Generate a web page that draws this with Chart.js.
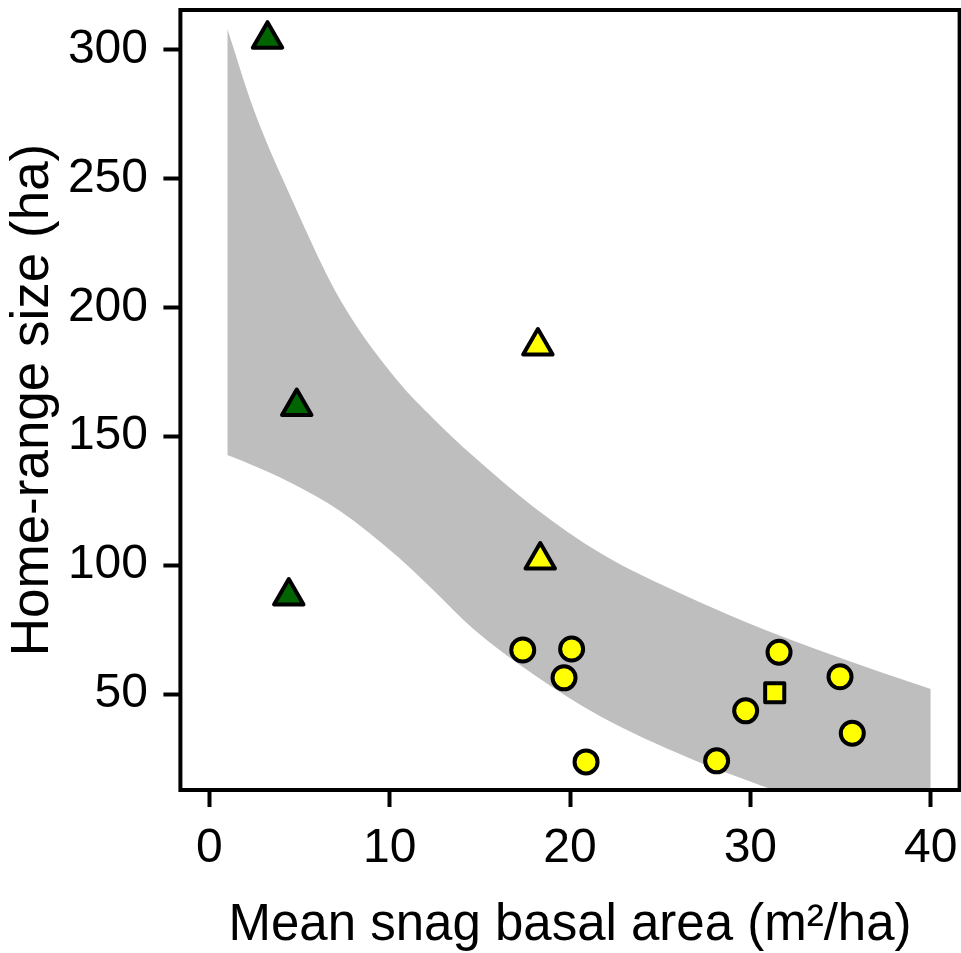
<!DOCTYPE html>
<html>
<head>
<meta charset="utf-8">
<script src="https://cdn.jsdelivr.net/npm/chart.js@4"></script>
<style>
  html, body { margin: 0; padding: 0; background: #fff; }
</style>
</head>
<body>
<canvas id="myChart" width="961" height="953"></canvas>
<script>
// observed home ranges, one pair of arrays per marker group
const greenTriX = [3.23, 4.85, 4.41];
const greenTriY = [304, 161.5, 88];
const yellowTriX = [18.22, 18.35];
const yellowTriY = [185, 102];
const circleX = [17.38, 20.09, 19.67, 20.89, 28.13, 29.74, 31.59, 34.97, 35.65];
const circleY = [67.1, 67.5, 56.3, 23.7, 24.1, 43.5, 66.2, 56.7, 34.8];
const squareX = [31.35];
const squareY = [50.5];

// grey confidence band
const bandX     = [1,     2.5,   4.6,   7.25, 10.5, 12.4, 14.6,  18,    21.7,  26.5, 29.8, 33.5, 37.2, 40];
const bandUpper = [308,   276,   241.5, 203,  171,  157,  142.5, 122.5, 104.6, 87.8, 77.8, 67.8, 58.6, 52];
const bandLower = [142.7, 138.5, 131.7, 121,  103,  90.5, 75.5,  57.5,  41.3,  25.5, 16.6, 7.5,  0,    -6];

const xTicks = [0, 10, 20, 30, 40];
const yTicks = [50, 100, 150, 200, 250, 300];

const FONT = "'Liberation Sans', Arial, sans-serif";

const pts = (xs, ys) => xs.map((x, i) => ({x: x, y: ys[i]}));

// frame round the plot, drawn on top of the band
const boxPlugin = {
    id: 'box',
    beforeDatasetsDraw(chart) {
        chart.ctx.save();
        chart.ctx.lineJoin = 'round';
    },
    afterDatasetsDraw(chart) {
        const {ctx, chartArea: a} = chart;
        ctx.restore();
        ctx.save();
        ctx.lineWidth = 4;
        ctx.strokeStyle = '#000';
        ctx.strokeRect(a.left, a.top, a.right - a.left, a.bottom - a.top);
        ctx.restore();
    }
};

const marker = (style, color, radius) => ({
    pointStyle: style,
    pointRadius: radius,
    pointBackgroundColor: color,
    pointBorderColor: '#000',
    pointBorderWidth: 4
});

var ctx = document.getElementById("myChart").getContext("2d");
new Chart(ctx, {
    type: 'scatter',
    data: {
        datasets: [
            Object.assign({data: pts(greenTriX, greenTriY)}, marker('triangle', '#006400', 17)),
            Object.assign({data: pts(yellowTriX, yellowTriY)}, marker('triangle', '#ffff00', 17)),
            Object.assign({data: pts(circleX, circleY)}, marker('circle', '#ffff00', 11.5)),
            Object.assign({data: pts(squareX, squareY)}, marker('rect', '#ffff00', 13.5)),
            {
                type: 'line',
                data: pts(bandX, bandUpper),
                borderWidth: 0,
                pointRadius: 0,
                cubicInterpolationMode: 'monotone',
                backgroundColor: '#bebebe',
                fill: '+1'
            },
            {
                type: 'line',
                data: pts(bandX, bandLower),
                borderWidth: 0,
                pointRadius: 0,
                cubicInterpolationMode: 'monotone',
                fill: false
            }
        ]
    },
    options: {
        responsive: false,
        animation: false,
        layout: { autoPadding: false, padding: { top: 10, right: 1.4, left: 0, bottom: 0 } },
        plugins: {
            legend: { display: false },
            tooltip: { enabled: false }
        },
        scales: {
            x: {
                type: 'linear',
                min: -1.6,
                max: 41.6,
                afterBuildTicks: axis => { axis.ticks = xTicks.map(v => ({value: v})); },
                afterFit: axis => { axis.height = 163; axis.paddingLeft = 0; axis.paddingRight = 0; },
                border: { display: false },
                grid: { drawOnChartArea: false, drawTicks: true, tickLength: 17, tickWidth: 4, tickColor: '#000' },
                ticks: {
                    color: '#000',
                    padding: 13.3,
                    autoSkip: false,
                    maxRotation: 0,
                    font: { family: FONT, size: 48, lineHeight: 1.2 }
                },
                title: {
                    display: true,
                    text: 'Mean snag basal area (m²/ha)',
                    color: '#000',
                    font: { family: FONT, size: 51, lineHeight: 1 },
                    padding: { top: 0, bottom: 2 }
                }
            },
            y: {
                type: 'linear',
                min: 12.8,
                max: 315.3,
                afterBuildTicks: axis => { axis.ticks = yTicks.map(v => ({value: v})); },
                afterFit: axis => { axis.width = 180.4; axis.paddingTop = 0; axis.paddingBottom = 0; },
                border: { display: false },
                grid: { drawOnChartArea: false, drawTicks: true, tickLength: 17, tickWidth: 4, tickColor: '#000' },
                ticks: {
                    color: '#000',
                    padding: 15.4,
                    autoSkip: false,
                    font: { family: FONT, size: 48, lineHeight: 1.2 }
                },
                title: {
                    display: true,
                    text: 'Home-range size (ha)',
                    color: '#000',
                    font: { family: FONT, size: 53, lineHeight: 1 },
                    padding: { top: 6.5, bottom: 0 }
                }
            }
        }
    },
    plugins: [boxPlugin]
});
</script>
</body>
</html>
